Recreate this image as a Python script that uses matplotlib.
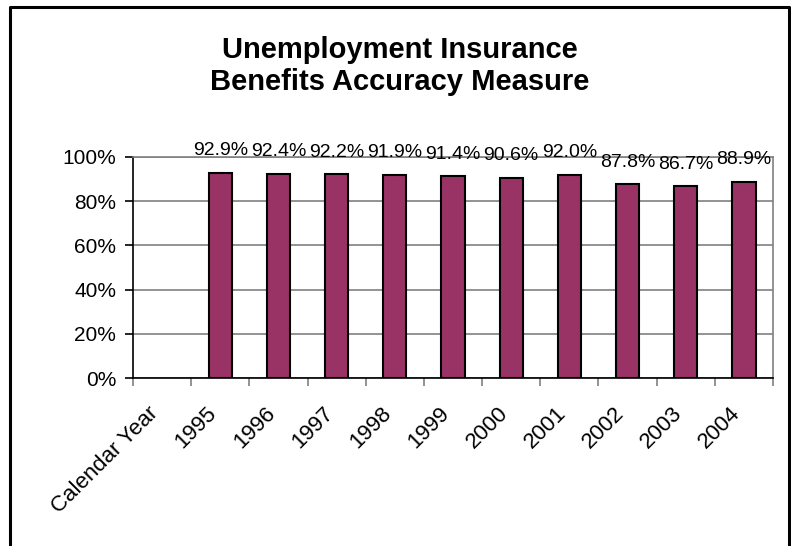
import numpy as np
import matplotlib.pyplot as plt
from matplotlib.lines import Line2D
from matplotlib.transforms import ScaledTranslation

plt.rcParams['font.family'] = ['Liberation Sans', 'DejaVu Sans']

# chart data
categories = ['Calendar Year', '1995', '1996', '1997', '1998', '1999',
              '2000', '2001', '2002', '2003', '2004']
accuracy = [np.nan, 92.9, 92.4, 92.2, 91.9, 91.4, 90.6, 92.0, 87.8, 86.7, 88.9]
y_ticks = [0, 20, 40, 60, 80, 100]

W, H = 791, 546
fig = plt.figure(figsize=(W / 100, H / 100), dpi=100)
ax = fig.add_axes([133 / W, 1 - 378 / H, 640 / W, 221 / H])

x = np.arange(len(categories))
ax.bar(x, accuracy, width=0.4, color='#993366', edgecolor='black', linewidth=1.5, zorder=3)

# value labels above bars
for xi, v in zip(x, accuracy):
    if np.isnan(v):
        continue
    ax.annotate(f'{v:.1f}%', (xi, v), xytext=(0, 15.8), textcoords='offset points',
                ha='center', va='center', fontsize=14, annotation_clip=False)

ax.set_xlim(-0.5, len(categories) - 0.5)
ax.set_ylim(0, 100)
ax.set_yticks(y_ticks)
ax.set_yticklabels([f'{t}%' for t in y_ticks], fontsize=15)
ax.yaxis.grid(True, color='#808080', linewidth=1.2, zorder=0)
ax.tick_params(axis='y', length=6, width=1.2, direction='out', pad=6)

# category ticks at boundaries, labels in centres
ax.set_xticks(np.arange(len(categories) + 1) - 0.5)
ax.set_xticklabels([])
ax.set_xticks(x, minor=True)
ax.set_xticklabels(categories, minor=True, rotation=45, ha='right', va='top',
                   rotation_mode='anchor', fontsize=16)
ax.tick_params(axis='x', which='major', length=6, width=1.2, color='#808080')
ax.tick_params(axis='x', which='minor', length=0, pad=18)
shift = ScaledTranslation(-14 / 100, 0, fig.dpi_scale_trans)
for lbl in ax.get_xticklabels(minor=True):
    lbl.set_transform(lbl.get_transform() + shift)

for s in ['top', 'right']:
    ax.spines[s].set_color('#808080')
    ax.spines[s].set_linewidth(1.2)
for s in ['left', 'bottom']:
    ax.spines[s].set_color('black')
    ax.spines[s].set_linewidth(1.2)

fig.text(400 / W, 1 - 66 / H, 'Unemployment Insurance\nBenefits Accuracy Measure',
         ha='center', va='center', fontsize=21, fontweight='bold', linespacing=1.2)

# outer frame (open at bottom)
fx = [10 / W, 10 / W, 789 / W, 789 / W]
fy = [0, 1 - 7 / H, 1 - 7 / H, 0]
fig.add_artist(Line2D(fx, fy, color='black', linewidth=2.2, transform=fig.transFigure))

fig.savefig('out.png', dpi=100)
